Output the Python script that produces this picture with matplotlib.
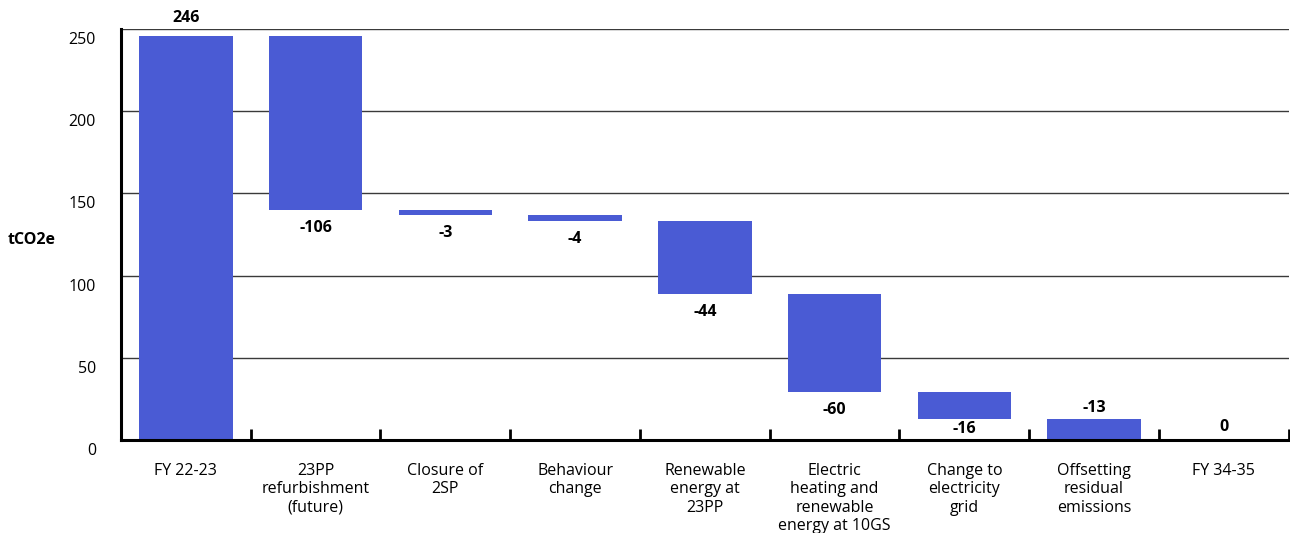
from __future__ import annotations

import matplotlib

matplotlib.use("Agg")

import matplotlib.pyplot as plt
import numpy as np
from matplotlib.transforms import ScaledTranslation

categories = [
    "FY 22-23",
    "23PP\nrefurbishment\n(future)",
    "Closure of\n2SP",
    "Behaviour\nchange",
    "Renewable\nenergy at\n23PP",
    "Electric\nheating and\nrenewable\nenergy at 10GS",
    "Change to\nelectricity\ngrid",
    "Offsetting\nresidual\nemissions",
    "FY 34-35",
]
changes = [246, -106, -3, -4, -44, -60, -16, -13, 0]
is_total = [True, False, False, False, False, False, False, False, True]
y_ticks = [0, 50, 100, 150, 200, 250]

BAR_COLOR = "#4a5bd4"


def waterfall_bounds(values, totals):
    bottoms, tops = [], []
    level = 0.0
    for value, total in zip(values, totals):
        if total:
            level = value
            bottoms.append(0.0)
            tops.append(value)
        else:
            start = level
            level = level + value
            bottoms.append(min(start, level))
            tops.append(max(start, level))
    return np.array(bottoms), np.array(tops)


def label_offset(total, low, high):
    # above the bar for totals and for bars resting on the axis, else below
    if total:
        return high, (13 if high > 0 else 9)
    if low < 5:
        return high, 7.5
    if low < 20:
        return low, -7.5
    return low, -13


def main() -> None:
    plt.rcParams["font.family"] = ["Open Sans", "DejaVu Sans"]

    fig = plt.figure(figsize=(12.9, 5.33), dpi=100)
    ax = fig.add_axes([0.0938, 0.1745, 0.9052, 0.771])

    x = np.arange(len(categories))
    bottoms, tops = waterfall_bounds(changes, is_total)
    ax.bar(x, tops - bottoms, bottom=bottoms, width=0.72, color=BAR_COLOR, zorder=3)

    for xi, value, total, low, high in zip(x, changes, is_total, bottoms, tops):
        anchor, offset = label_offset(total, low, high)
        ax.annotate(
            f"{value:d}",
            (xi, anchor),
            xytext=(0, offset),
            textcoords="offset points",
            ha="center",
            va="center",
            fontsize=11.5,
            fontweight="bold",
            annotation_clip=False,
        )

    ax.set_xlim(-0.5, len(categories) - 0.5)
    ax.set_ylim(0, 250)
    ax.set_yticks(y_ticks)
    ax.set_yticklabels([str(t) for t in y_ticks], fontsize=11.5)
    ax.tick_params(axis="y", length=0, pad=18)
    offset = ScaledTranslation(0, -9 / 100, fig.dpi_scale_trans)
    for label in ax.get_yticklabels():
        label.set_transform(label.get_transform() + offset)

    ax.set_xticks(x)
    ax.set_xticklabels(categories, fontsize=11.5, linespacing=1.2, va="top")
    ax.tick_params(axis="x", which="major", length=0, pad=16.5)
    ax.set_xticks(np.arange(0.5, len(categories)), minor=True)
    ax.tick_params(axis="x", which="minor", direction="in", length=8, width=2, color="black")

    for y in y_ticks[1:]:
        ax.axhline(y, color="#3a3a3a", linewidth=1, zorder=1)

    for side in ("top", "right"):
        ax.spines[side].set_visible(False)
    for side in ("left", "bottom"):
        ax.spines[side].set_linewidth(2.2)
        ax.spines[side].set_color("black")
        ax.spines[side].set_zorder(4)

    fig.text(8 / 1290, 1 - 240 / 533, "tCO2e", fontsize=11.5, fontweight="bold", ha="left", va="center")

    fig.savefig("out.png", dpi=100)
    plt.close(fig)


if __name__ == "__main__":
    main()
